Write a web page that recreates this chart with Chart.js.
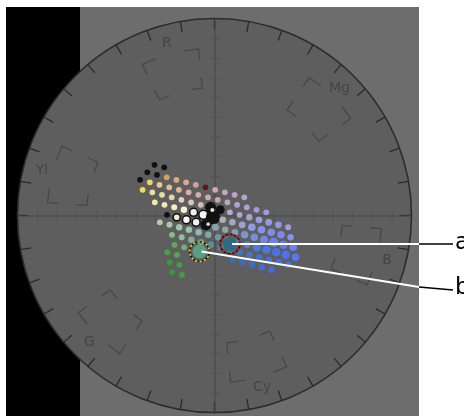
<!DOCTYPE html>
<html><head><meta charset="utf-8">
<script src="https://cdn.jsdelivr.net/npm/chart.js@4/dist/chart.umd.min.js"></script>
<style>html,body{margin:0;padding:0;background:#fff;overflow:hidden}#wrap{width:464px;height:416px;position:relative}</style>
</head><body><div id="wrap"><canvas id="c" width="464" height="416"></canvas></div>
<script>
// Vectorscope: units are percent of the graticule radius (circle radius = 100)
const dotX = [-30.46,-25.53,-34.11,-29.19,-24.26,-19.34,-14.41,-9.49,-4.57,0.36,5.28,10.21,15.13,
 -37.76,-32.84,-27.92,-22.99,-18.07,-13.14,-8.22,-3.30,1.63,6.55,11.48,16.40,21.32,26.25,
 -36.49,-31.57,-26.65,-21.72,-16.80,-11.87,-6.95,-2.03,2.90,7.82,12.75,17.67,22.59,27.52,32.44,37.37,
 -30.30,-25.38,-20.45,-15.53,-10.60,-5.68,-0.76,4.17,9.09,14.02,18.94,23.86,28.79,33.71,38.64,
 -24.11,-19.18,-14.26,-9.33,-4.41,0.51,5.44,10.36,15.29,20.21,25.13,30.06,34.98,39.91,
 -27.77,-22.85,-17.92,-13.00,-8.07,-3.15,1.77,6.70,11.62,16.55,21.47,26.39,31.32,36.24,41.17,
 -21.58,-16.65,-11.73,-6.80,-1.88,3.04,7.97,12.89,17.82,22.74,27.66,32.59,37.51,
 -20.31,-15.38,-23.96,-19.04,-22.69,-17.77,-21.42,-16.50,
 9.24,14.16,19.09,24.01,28.93,
 -1.12,-3.2];
const dotY = [25.74,24.47,21.93,20.66,19.39,18.12,16.85,15.58,14.32,13.05,11.78,10.51,9.24,
 18.12,16.85,15.58,14.31,13.04,11.77,10.50,9.24,7.97,6.70,5.43,4.16,2.89,1.62,
 13.05,11.78,10.51,9.24,7.97,6.70,5.43,4.17,2.90,1.63,0.36,-0.91,-2.18,-3.45,-4.72,-5.99,
 6.70,5.43,4.16,2.89,1.62,0.35,-0.91,-2.18,-3.45,-4.72,-5.99,-7.26,-8.53,-9.80,-11.07,
 0.36,-0.91,-2.18,-3.45,-4.72,-5.98,-7.25,-8.52,-9.79,-11.06,-12.33,-13.60,-14.87,-16.14,
 -3.45,-4.72,-5.99,-7.26,-8.53,-9.80,-11.06,-12.33,-13.60,-14.87,-16.14,-17.41,-18.68,-19.95,-21.22,
 -9.80,-11.07,-12.34,-13.61,-14.88,-16.14,-17.41,-18.68,-19.95,-21.22,-22.49,-23.76,-25.03,
 -14.87,-16.14,-18.68,-19.95,-23.75,-25.02,-28.83,-30.10,
 -22.48,-23.75,-25.02,-26.29,-27.56,
 2.79,-4.4];
const dotColor = ['#111','#111','#111','#111','#d9a05c','#dcac80','#d8a890','#d2a09c','#6a1212','#d4a6b8','#c8a2c2','#c0a0ca','#b8a0d2',
 '#111','#ecd46c','#e8c888','#e4bc8e','#e0b498','#dab0a2','#d4aaac','#cca8b6','#c6a6c2','#bea4ca','#b6a2d2','#aea0d8','#a69cdc','#a09ae2',
 '#eed860','#eedc98','#ecdaa4','#e8d4aa','#e4ceb0','#dcc6b6','#d2bebe','#111','#111','#b2aad4','#aaa6dc','#a2a2e0','#9a9ce4','#9698e8','#9294ec','#a09ce8',
 '#f0e8a8','#f0e8b8','#f2eec8','#f4f2d8','#f0f0e8','#f4f4f0','#111','#a8b4bc','#a0aac8','#98a2d4','#909ade','#8892e6','#808cec','#7c88f0','#8890f0',
 '#111','#eeeec8','#f8f8f0','#f0f0f0','#111','#8aa0a8','#90a4ac','#889cbc','#8094cc','#788cd8','#7084e2','#6880ea','#6078f0','#6c80f2',
 '#b4cca0','#acc8a4','#a4c4ac','#9cc0b2','#90b8b4','#80a8ac','#6e98a8','#5e88a4','#5888b8','#5480c8','#5078d8','#4c74e2','#4a70ea','#4c70f0','#5878f0',
 '#88bc88','#90c098','#7cb090','#6aa098','#5a9098','#4c8498','#447ca4','#4478b4','#4474c4','#4470d4','#466edc','#486ee4','#4a6ee8',
 '#60a860','#70b078','#48a048','#50a850','#3c983c','#44a044','#3a963a','#40a040',
 '#3c70a8','#3e6eb8','#406cc8','#426cd4','#446cdc',
 '#e8e8e8','#d8d8d8'];
const dotSize = [2.9,2.9,
 2.9,2.9,2.9,2.9,2.9,2.9,2.9,2.9,2.9,2.9,2.9,
 2.9,2.9,2.9,2.9,2.9,2.9,2.9,2.9,2.9,2.9,2.9,2.9,2.9,2.9,
 2.9,2.9,2.9,2.9,2.9,2.9,2.9,5.5,4.5,2.9,2.9,3.2,3.4,3.4,3.4,3.0,
 2.9,2.9,3.0,3.2,4,4.5,7,3.2,3.2,3.4,3.8,3.8,3.8,3.8,3.2,
 2.9,3.6,4,4,5.5,3.5,3.2,3.4,3.8,3.8,4.2,4.8,4.2,3.8,
 2.9,3.0,3.2,3.2,3.2,3.2,3.2,3.2,3.2,3.6,4.2,4.2,4.2,4.2,3.8,
 2.9,3.0,3.2,3.2,3.2,3.2,3.2,3.2,3.2,3.2,3.2,3.2,3.2,
 2.9,2.9,2.9,2.9,2.9,2.9,2.9,2.9,
 3.2,3.2,3.2,3.2,3.2,
 2,1.8];
const dotOutlined = [47,48,59,60,61]; // indices of pale dots with dark rims

const targetNames = ['R','Mg','B','Cy','G','Yl'];
const targetAngle = [105.5,45.5,-14.5,-74.5,-134.5,165.5];   // degrees
const targetRadius = [75,75,75,75,75,75];

const markerNames = ['a','b'];
const markerX = [7.9,-7.6];
const markerY = [-14.5,-18.3];
const markerFill = ['#2e6a86','#5a9e80'];
const markerRing = ['#d42020','#e2d040'];
const calloutBendY = [-14.5,-36.3];
const calloutEndY = [-14.5,-37.8];

const ringTickDeg = 10, axisTickStep = 10;

const scopePlugin = {
  id:'scope',
  beforeDatasetsDraw(chart){
    const ctx = chart.ctx, xs = chart.scales.x, ys = chart.scales.y;
    const P = (x,y)=>[xs.getPixelForValue(x), ys.getPixelForValue(y)];
    const Q = (r,d)=>{const a=d*Math.PI/180;return P(r*Math.cos(a), r*Math.sin(a));};
    const [cx,cy] = P(0,0); const R = xs.getPixelForValue(100)-cx;
    ctx.save();
    // frame
    ctx.fillStyle='#fff'; ctx.fillRect(0,0,464,416);
    ctx.fillStyle='#000'; ctx.fillRect(6,7,74,409);
    ctx.fillStyle='#6d6d6d'; ctx.fillRect(80,7,339,409);
    // disc
    ctx.beginPath(); ctx.arc(cx,cy,R,0,Math.PI*2); ctx.fillStyle='#5e5e5e'; ctx.fill();
    ctx.lineWidth=1.6; ctx.strokeStyle='#2c2c2c'; ctx.stroke();
    // rim ticks
    ctx.lineWidth=1.3; ctx.strokeStyle='#2a2a2a';
    for(let d=0; d<360; d+=ringTickDeg){
      const a=Q(100,d), b=Q(94.5,d);
      ctx.beginPath(); ctx.moveTo(a[0],a[1]); ctx.lineTo(b[0],b[1]); ctx.stroke();
    }
    // crosshair
    ctx.lineWidth=1; ctx.strokeStyle='#474747';
    let a=P(-100,0), b=P(100,0);
    ctx.beginPath(); ctx.moveTo(a[0],a[1]+0.5); ctx.lineTo(b[0],b[1]+0.5); ctx.stroke();
    a=P(0,-100); b=P(0,100);
    ctx.beginPath(); ctx.moveTo(a[0]+0.5,a[1]); ctx.lineTo(b[0]+0.5,b[1]); ctx.stroke();
    ctx.strokeStyle='#525252';
    for(let v=-90; v<=90; v+=axisTickStep){
      if(v===0) continue;
      let p=P(v,0); ctx.beginPath(); ctx.moveTo(p[0]+0.5,p[1]-4.5); ctx.lineTo(p[0]+0.5,p[1]+5.5); ctx.stroke();
      p=P(0,v); ctx.beginPath(); ctx.moveTo(p[0]-4.5,p[1]+0.5); ctx.lineTo(p[0]+5.5,p[1]+0.5); ctx.stroke();
    }
    // targets
    ctx.strokeStyle='#494949'; ctx.lineWidth=1.4;
    ctx.fillStyle='#454545'; ctx.font='14px "DejaVu Sans"'; ctx.textAlign='center'; ctx.textBaseline='middle';
    targetNames.forEach((n,i)=>{
      const t=targetAngle[i], r=targetRadius[i], r0=r-10, r1=r+10, h=10, arm=5, rad=5.5;
      [[r1,1],[r1,-1],[r0,1],[r0,-1]].forEach(([rr,s])=>{
        const c=Q(rr,t+s*h);
        const arcEnd=Q(rr,t+s*(h-arm));
        const radEnd=Q(rr===r1?rr-rad:rr+rad,t+s*h);
        ctx.beginPath(); ctx.moveTo(arcEnd[0],arcEnd[1]); ctx.lineTo(c[0],c[1]); ctx.lineTo(radEnd[0],radEnd[1]); ctx.stroke();
      });
      const lp=Q(90.5,t);
      ctx.fillText(n,lp[0],lp[1]);
    });
    ctx.restore();
  },
  afterDatasetsDraw(chart){
    const ctx = chart.ctx, xs = chart.scales.x, ys = chart.scales.y;
    const P = (x,y)=>[xs.getPixelForValue(x), ys.getPixelForValue(y)];
    ctx.save();
    markerNames.forEach((n,i)=>{
      const p=P(markerX[i],markerY[i]);
      const rr = xs.getPixelForValue(5)-xs.getPixelForValue(0);
      ctx.lineWidth=1.6;
      ctx.setLineDash([]); ctx.strokeStyle='#1a1a1a';
      ctx.beginPath(); ctx.arc(p[0],p[1],rr,0,Math.PI*2); ctx.stroke();
      ctx.setLineDash([2.2,2.2]); ctx.strokeStyle=markerRing[i];
      ctx.beginPath(); ctx.arc(p[0],p[1],rr,0,Math.PI*2); ctx.stroke();
    });
    ctx.setLineDash([]);
    markerNames.forEach((n,i)=>{
      const p=P(markerX[i],markerY[i]);
      const bend=[419, ys.getPixelForValue(calloutBendY[i])];
      const end=[453, ys.getPixelForValue(calloutEndY[i])];
      ctx.strokeStyle='#fff'; ctx.lineWidth=2;
      ctx.beginPath(); ctx.moveTo(p[0]+2,p[1]); ctx.lineTo(bend[0],bend[1]); ctx.stroke();
      ctx.strokeStyle='#000'; ctx.lineWidth=1.5;
      ctx.beginPath(); ctx.moveTo(bend[0],bend[1]); ctx.lineTo(end[0],end[1]); ctx.stroke();
      ctx.fillStyle='#000'; ctx.font='23px "DejaVu Sans"'; ctx.textAlign='left'; ctx.textBaseline='middle';
      ctx.fillText(n, 455, end[1]+ (i===0?-1:-2));
    });
    ctx.restore();
  }
};

const pts = dotX.map((x,i)=>({x, y:dotY[i]}));
const borderW = dotX.map((x,i)=>dotOutlined.includes(i)?1.6:0);
new Chart(document.getElementById('c'), {
  type:'scatter',
  data:{datasets:[
    {data: markerX.map((x,i)=>({x,y:markerY[i]})), pointRadius:7, pointBackgroundColor:markerFill, pointBorderWidth:0},
    {data: pts, pointRadius:dotSize, pointBackgroundColor:dotColor, pointBorderColor:'#111', pointBorderWidth:borderW}
  ]},
  options:{
    responsive:false, animation:false, events:[], devicePixelRatio:1,
    layout:{padding:0, autoPadding:false},
    plugins:{legend:{display:false}, tooltip:{enabled:false}, title:{display:false}},
    scales:{
      x:{type:'linear', display:false, min:-108.88, max:126.65},
      y:{type:'linear', display:false, min:-101.78, max:109.39}
    }
  },
  plugins:[scopePlugin]
});
</script></body></html>
